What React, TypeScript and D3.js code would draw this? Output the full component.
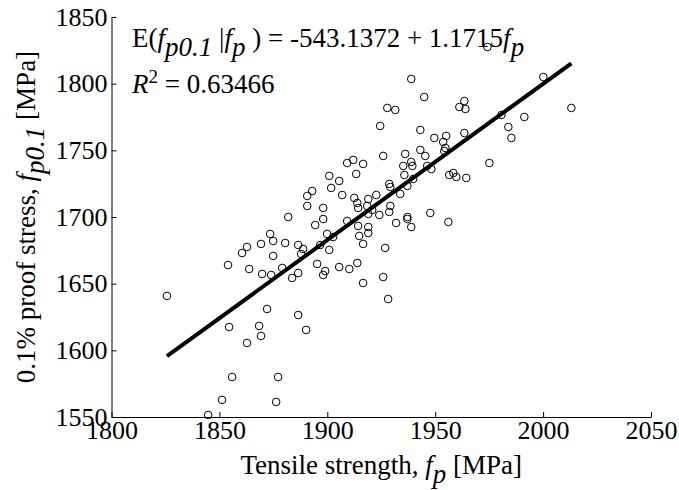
import React, { useEffect, useRef } from "react";
import * as d3 from "d3";

const tensile = [
  1974.2, 2000.1, 1938.9, 1944.9, 2013.1, 1927.8, 1931.5, 1961.2, 1963.5, 1964.0,
  1991.3, 1980.7, 1924.5, 1983.9, 1985.3, 1943.1, 1949.6, 1955.1, 1953.7, 1954.7,
  1954.2, 1963.5, 1916.6, 1925.9, 1936.1, 1943.1, 1945.4, 1935.2, 1938.9, 1939.4,
  1935.7, 1939.8, 1948.2, 1946.3, 1975.1, 1956.5, 1958.4, 1959.8, 1964.4, 1928.7,
  1929.2, 1933.8, 1937.1, 1922.7, 1919.0, 1909.2, 1912.0, 1913.4, 1900.9, 1905.5,
  1901.8, 1893.0, 1890.7, 1906.9, 1912.5, 1890.7, 1898.1, 1898.1, 1894.4, 1881.9,
  1913.9, 1914.3, 1918.5, 1920.8, 1919.0, 1924.1, 1928.7, 1929.2, 1909.2, 1914.3,
  1919.0, 1919.0, 1914.8, 1916.6, 1931.9, 1937.1, 1937.1, 1938.9, 1947.7, 1956.1,
  1899.9, 1902.7, 1896.7, 1900.9, 1926.8, 1895.3, 1899.0, 1898.1, 1905.5, 1910.2,
  1913.9, 1916.6, 1925.9, 1928.2, 1873.5, 1874.9, 1869.3, 1880.5, 1862.8, 1860.5,
  1874.9, 1854.0, 1863.8, 1869.8, 1874.0, 1879.1, 1886.5, 1888.8, 1887.9, 1886.5,
  1883.7, 1825.7, 1872.1, 1854.5, 1868.4, 1869.3, 1862.8, 1886.5, 1890.2, 1855.9,
  1877.2, 1851.2, 1876.3, 1844.8,
];

const proof = [
  1827.5, 1805.0, 1803.5, 1790.0, 1781.8, 1781.8, 1780.3, 1782.5, 1787.0, 1781.0,
  1775.0, 1776.5, 1768.3, 1767.5, 1759.3, 1765.3, 1759.3, 1760.8, 1756.3, 1751.8,
  1749.5, 1763.0, 1739.8, 1745.8, 1747.3, 1750.3, 1745.8, 1738.3, 1741.3, 1738.3,
  1731.5, 1728.5, 1736.0, 1738.3, 1740.5, 1731.5, 1733.0, 1730.0, 1729.3, 1724.8,
  1722.5, 1717.3, 1723.3, 1716.5, 1713.5, 1740.5, 1742.8, 1732.3, 1730.8, 1727.0,
  1721.8, 1719.5, 1715.8, 1716.5, 1714.3, 1708.3, 1706.8, 1698.5, 1694.0, 1700.0,
  1710.5, 1706.8, 1708.3, 1705.3, 1702.3, 1701.5, 1703.8, 1708.3, 1697.0, 1693.3,
  1692.5, 1688.0, 1685.8, 1679.8, 1695.5, 1700.0, 1698.5, 1692.5, 1703.0, 1696.3,
  1687.3, 1685.0, 1679.0, 1675.3, 1676.8, 1664.8, 1659.5, 1656.5, 1662.5, 1661.0,
  1665.5, 1650.5, 1655.0, 1638.5, 1687.3, 1682.0, 1679.8, 1680.5, 1677.5, 1673.0,
  1670.8, 1664.0, 1661.0, 1657.3, 1656.5, 1661.8, 1679.0, 1676.0, 1672.3, 1658.0,
  1654.3, 1640.8, 1631.0, 1617.5, 1618.3, 1610.8, 1605.5, 1626.5, 1615.3, 1580.0,
  1580.0, 1562.8, 1561.3, 1551.5,
];

const xTicks = [1800, 1850, 1900, 1950, 2000, 2050];
const yTicks = [1550, 1600, 1650, 1700, 1750, 1800, 1850];
const intercept = -543.1372;
const slope = 1.1715;
const interceptLabel = "-543.1372";
const slopeLabel = "1.1715";
const r2Label = "0.63466";

const W = 679;
const H = 490;
const M = { left: 111.5, right: 651, top: 17, bottom: 417 };
const FONT = "'Liberation Serif','Times New Roman',Times,serif";
const FS = 26;
const LFS = 27;
const SUB = 9;

export default function App() {
  const ref = useRef<SVGSVGElement>(null);
  useEffect(() => {
    const svg = d3.select(ref.current);
    svg.selectAll("*").remove();
    const x = d3.scaleLinear().domain([1800, 2050]).range([M.left, M.right]);
    const y = d3.scaleLinear().domain([1550, 1850]).range([M.bottom, M.top]);

    // points
    const pts = tensile.map((t, i) => [t, proof[i]] as [number, number]);
    svg
      .append("g")
      .selectAll("circle")
      .data(pts)
      .enter()
      .append("circle")
      .attr("cx", (d) => x(d[0]))
      .attr("cy", (d) => y(d[1]))
      .attr("r", 3.8)
      .attr("fill", "none")
      .attr("stroke", "#000")
      .attr("stroke-width", 1);

    // regression line
    const x0 = d3.min(tensile) as number;
    const x1 = d3.max(tensile) as number;
    const line = d3
      .line<number>()
      .x((d) => x(d))
      .y((d) => y(intercept + slope * d));
    svg
      .append("path")
      .attr("d", line([x0, x1]))
      .attr("stroke", "#000")
      .attr("stroke-width", 4)
      .attr("fill", "none");

    // axes
    const xa = svg
      .append("g")
      .attr("transform", `translate(0,${M.bottom})`)
      .call(
        d3
          .axisBottom(x)
          .tickValues(xTicks)
          .tickSizeInner(-5)
          .tickSizeOuter(0)
          .tickPadding(4)
          .tickFormat(d3.format("d"))
      );
    const ya = svg
      .append("g")
      .attr("transform", `translate(${M.left},0)`)
      .call(
        d3
          .axisLeft(y)
          .tickValues(yTicks)
          .tickSizeInner(-5)
          .tickSizeOuter(0)
          .tickPadding(4)
          .tickFormat(d3.format("d"))
      );
    [xa, ya].forEach((a) => {
      a.selectAll("path,line").attr("stroke", "#000").attr("stroke-width", 1);
      a.selectAll("text")
        .attr("font-family", FONT)
        .attr("font-size", FS)
        .attr("fill", "#000");
    });

    const addText = (
      parent: any,
      parts: { t: string; it?: boolean; dy?: number; fs?: number }[]
    ) => {
      parts.forEach((p) => {
        const ts = parent.append("tspan").text(p.t);
        if (p.it) ts.attr("font-style", "italic");
        if (p.dy) ts.attr("dy", p.dy);
        if (p.fs) ts.attr("font-size", p.fs);
      });
    };

    // x label
    const xl = svg
      .append("text")
      .attr("x", (M.left + M.right) / 2)
      .attr("y", 474)
      .attr("text-anchor", "middle")
      .attr("font-family", FONT)
      .attr("font-size", LFS)
      .style("white-space", "pre");
    addText(xl, [
      { t: "Tensile strength, " },
      { t: "f", it: true },
      { t: "p", it: true, dy: SUB },
      { t: " [MPa]", dy: -SUB },
    ]);

    // y label
    const yl = svg
      .append("text")
      .attr("transform", `translate(35,${(M.top + M.bottom) / 2}) rotate(-90)`)
      .attr("text-anchor", "middle")
      .attr("font-family", FONT)
      .attr("font-size", LFS)
      .style("white-space", "pre");
    addText(yl, [
      { t: "0.1% proof stress, " },
      { t: "f", it: true },
      { t: "p0.1", it: true, dy: SUB },
      { t: " [MPa]", dy: -SUB },
    ]);

    // equation
    const eq = svg
      .append("text")
      .attr("x", 132)
      .attr("y", 47)
      .attr("font-family", FONT)
      .attr("font-size", LFS)
      .style("white-space", "pre");
    addText(eq, [
      { t: "E(" },
      { t: "f", it: true },
      { t: "p0.1", it: true, dy: SUB },
      { t: " |", dy: -SUB },
      { t: "f", it: true },
      { t: "p", it: true, dy: SUB },
      { t: " ) = " + interceptLabel + " + " + slopeLabel, dy: -SUB },
      { t: "f", it: true },
      { t: "p", it: true, dy: SUB },
    ]);

    const r2 = svg
      .append("text")
      .attr("x", 132)
      .attr("y", 93)
      .attr("font-family", FONT)
      .attr("font-size", LFS)
      .style("white-space", "pre");
    addText(r2, [
      { t: "R", it: true },
      { t: "2", dy: -10, fs: 19 },
      { t: " = " + r2Label, dy: 10 },
    ]);
  }, []);
  return (
    <svg
      ref={ref}
      width={W}
      height={H}
      style={{ position: "absolute", left: 0, top: 0, background: "#fff" }}
    />
  );
}
